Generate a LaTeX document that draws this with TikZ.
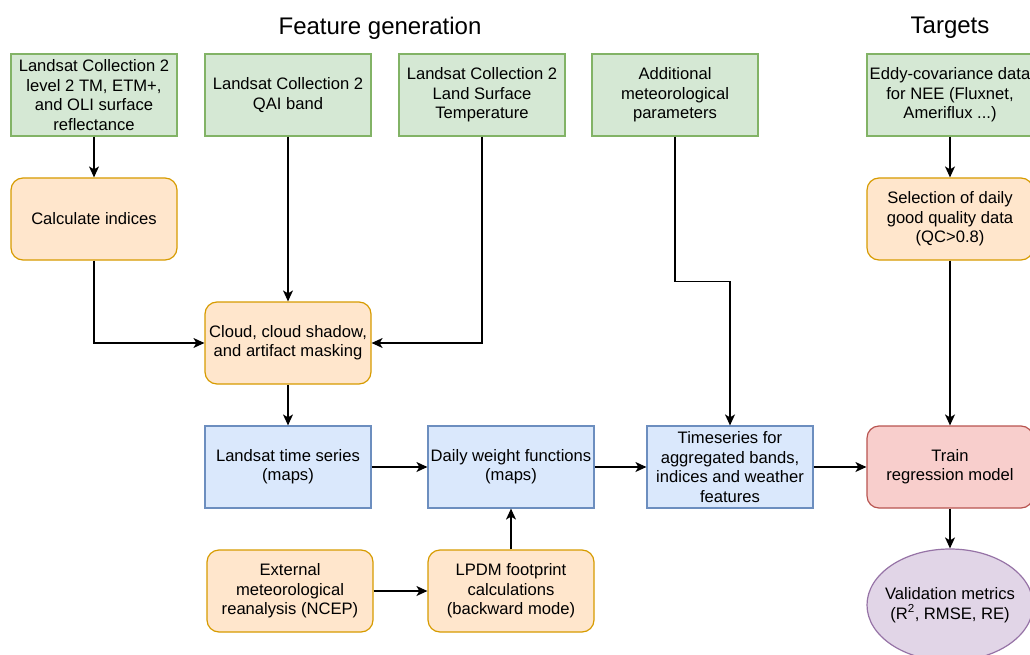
\documentclass[tikz,border=0pt]{standalone}
\usepackage{fontspec}
\setmainfont{Liberation Sans}
\usetikzlibrary{arrows.meta,shapes.geometric}

\definecolor{green fill}{HTML}{D5E8D4}
\definecolor{green line}{HTML}{82B366}
\definecolor{orange fill}{HTML}{FFE6CC}
\definecolor{orange line}{HTML}{D79B00}
\definecolor{blue fill}{HTML}{DAE8FC}
\definecolor{blue line}{HTML}{6C8EBF}
\definecolor{red fill}{HTML}{F8CECC}
\definecolor{red line}{HTML}{B85450}
\definecolor{purple fill}{HTML}{E1D5E7}
\definecolor{purple line}{HTML}{9673A6}

\begin{document}
\begin{tikzpicture}[x=1pt,y=-1pt,
  box/.style={draw,line width=1.2pt,minimum width=166pt,minimum height=82pt,
    inner sep=0pt,align=center,font=\fontsize{16.6}{19.4}\selectfont},
  source/.style={box,fill=green fill,draw=green line},
  process/.style={box,rounded corners=12pt,fill=orange fill,draw=orange line},
  product/.style={box,fill=blue fill,draw=blue line},
  model/.style={box,rounded corners=12pt,fill=red fill,draw=red line},
  result/.style={box,ellipse,inner xsep=-17pt,minimum width=166pt,minimum height=112pt,fill=purple fill,draw=purple line},
  heading/.style={font=\fontsize{24}{28}\selectfont},
  link/.style={line width=1.3pt,-{Stealth[length=11pt,width=10pt,inset=3pt]}}]
\useasboundingbox (0,0) rectangle (1030,655);
\clip (0,0) rectangle (1030,655);

\node [heading] (feature title) at (380,28) {Feature generation};
\node [heading] (target title) at (950,28) {Targets};

\node [source] (landsat sr) at (94,95) {Landsat Collection 2\\level 2 TM, ETM+,\\and OLI surface\\reflectance};
\node [source] (qai band) at (288,95) {Landsat Collection 2\\QAI band};
\node [source] (landsat lst) at (482,95) {Landsat Collection 2\\Land Surface\\Temperature};
\node [source] (extra met) at (675,95) {Additional\\meteorological\\parameters};
\node [source] (eddy data) at (950,95) {Eddy-covariance data\\for NEE (Fluxnet,\\Ameriflux ...)};

\node [process] (indices) at (94,219) {Calculate indices};
\node [process] (selection) at (950,219) {Selection of daily\\good quality data\\(QC>0.8)};
\node [process] (masking) at (288,343) {Cloud, cloud shadow,\\and artifact masking};

\node [product] (time series) at (288,467) {Landsat time series\\(maps)};
\node [product] (weights) at (511,467) {Daily weight functions\\(maps)};
\node [product] (aggregated) at (730,467) {Timeseries for\\aggregated bands,\\indices and weather\\features};
\node [model] (train) at (950,467) {Train\\regression model};

\node [process] (ncep) at (290,591) {External\\meteorological\\reanalysis (NCEP)};
\node [process] (lpdm) at (511,591) {LPDM footprint\\calculations\\(backward mode)};
\node [result] (metrics) at (950,605) {Validation metrics\\(R\textsuperscript{2}, RMSE, RE)};

\draw [link] (landsat sr) -- (indices);
\draw [link] (indices.south) |- (masking.west);
\draw [link] (qai band) -- (masking);
\draw [link] (landsat lst.south) |- (masking.east);
\draw [link] (extra met.south) -- ++(0,145) -| (aggregated.north);
\draw [link] (masking) -- (time series);
\draw [link] (time series) -- (weights);
\draw [link] (weights) -- (aggregated);
\draw [link] (aggregated) -- (train);
\draw [link] (eddy data) -- (selection);
\draw [link] (selection) -- (train);
\draw [link] (train) -- (metrics);
\draw [link] (ncep) -- (lpdm);
\draw [link] (lpdm) -- (weights);
\end{tikzpicture}
\end{document}
